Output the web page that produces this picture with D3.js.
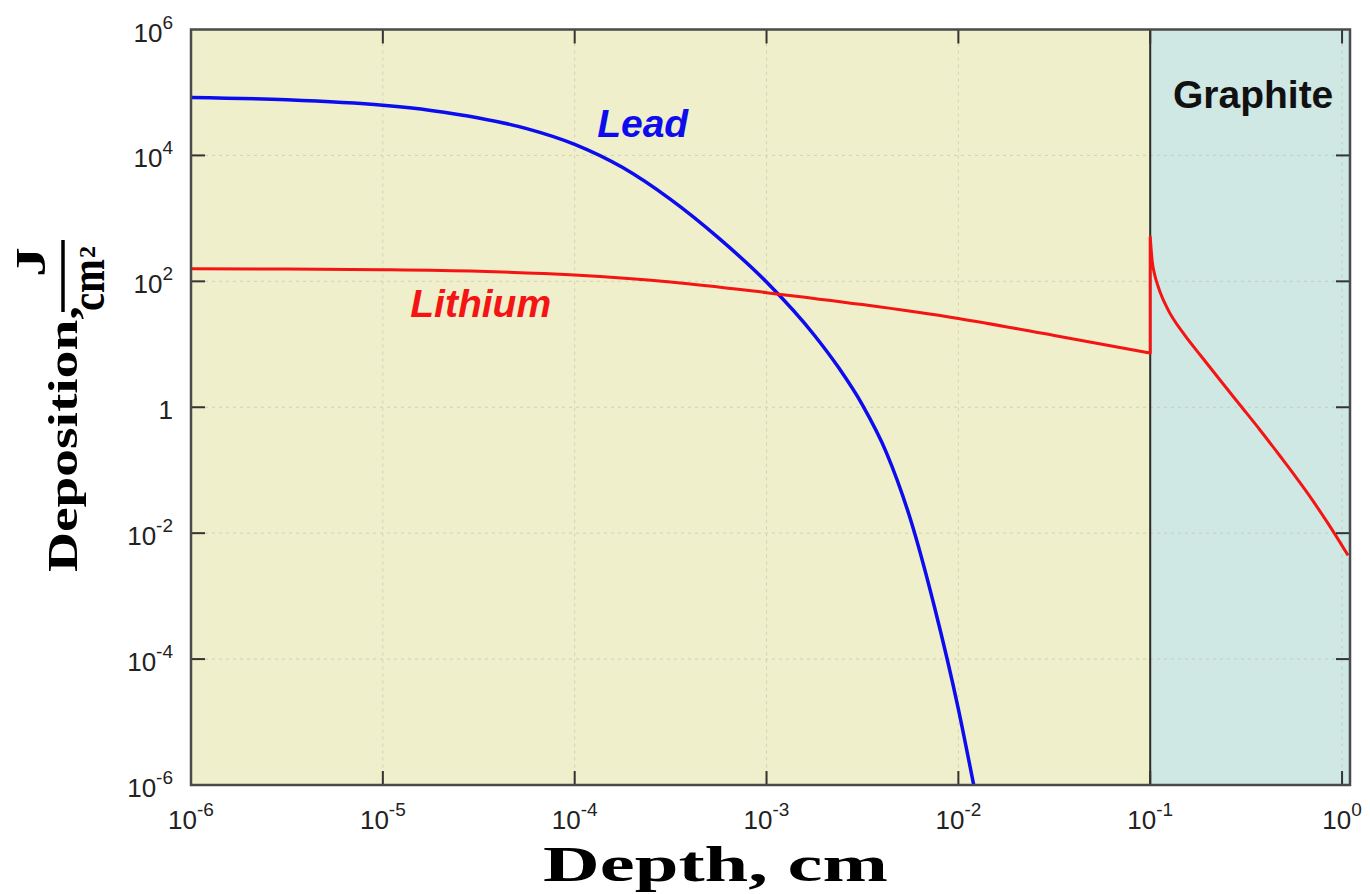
<!DOCTYPE html>
<html>
<head>
<meta charset="utf-8">
<script src="https://cdn.jsdelivr.net/npm/d3@7"></script>
<style>
  body { margin: 0; background: #ffffff; }
  svg { display: block; }
</style>
</head>
<body>
<svg id="chart" width="1370" height="894"></svg>
<script>
// Tick positions (decades) for both log axes
const depthTicks = [1e-6, 1e-5, 1e-4, 1e-3, 1e-2, 1e-1, 1];
const depositionTicks = [1e-6, 1e-4, 1e-2, 1, 1e2, 1e4, 1e6];

// Energy deposition in the lead layer, J/cm^2 vs depth, cm
const leadDepth = [1e-6, 3.16e-6, 1e-5, 1.78e-5, 3.16e-5, 5.62e-5, 1e-4, 1.78e-4,
  3.16e-4, 5.62e-4, 1e-3, 1.78e-3, 2.37e-3, 3.16e-3, 4.22e-3, 5.62e-3, 7.5e-3, 1e-2, 1.202e-2];
const leadDeposition = [8.3e4, 7.63e4, 6.24e4, 5.18e4, 3.94e4, 2.67e4, 1.5e4, 6.41e3,
  2.0e3, 489, 97.5, 13.8, 4.3, 1.09, 0.189, 0.0168, 6.79e-4, 1.61e-5, 1e-6];

// Energy deposition in the lithium film (up to the graphite interface)
const lithiumDepth = [1e-6, 3.16e-6, 1e-5, 3.16e-5, 1e-4, 3.16e-4, 1e-3, 3.16e-3, 1e-2, 3.16e-2, 0.1];
const lithiumDeposition = [158.5, 156.7, 153.1, 144.5, 125.9, 97.7, 66.1, 42.7, 25.7, 13.8, 7.24];

// Energy deposition in the graphite substrate
const graphiteDepth = [0.1, 0.1025, 0.1053, 0.1111, 0.1232, 0.151, 0.184, 0.2311,
  0.2938, 0.3735, 0.4749, 0.5585, 0.6568, 0.8449, 1.0742];
const graphiteDeposition = [512, 203, 131, 75.5, 36.4, 14.1, 6.52, 2.71,
  1.086, 0.4355, 0.1683, 0.0877, 0.0443, 0.01429, 0.00444];

const layerBoundary = 0.1;
const depthMax = 1.1;

const svg = d3.select("#chart");

const plotLeft = 191, plotRight = 1350, plotTop = 29.5, plotBottom = 785;

const x = d3.scaleLog().domain([1e-6, depthMax]).range([plotLeft, plotRight]);
const y = d3.scaleLog().domain([1e-6, 1e6]).range([plotBottom, plotTop]);

const sansFont = "'Liberation Sans', Arial, Helvetica, sans-serif";
const serifFont = "'Liberation Serif', 'Times New Roman', Times, serif";
const leadColor = "#0c0cee";
const lithiumColor = "#f41414";

svg.append("defs").append("clipPath").attr("id", "plotClip")
  .append("rect").attr("x", plotLeft).attr("y", plotTop)
  .attr("width", plotRight - plotLeft).attr("height", plotBottom - plotTop);

// Backgrounds for the two material regions
svg.append("rect")
  .attr("x", x(1e-6)).attr("y", plotTop)
  .attr("width", x(layerBoundary) - x(1e-6)).attr("height", plotBottom - plotTop)
  .attr("fill", "#efefcb");
svg.append("rect")
  .attr("x", x(layerBoundary)).attr("y", plotTop)
  .attr("width", plotRight - x(layerBoundary)).attr("height", plotBottom - plotTop)
  .attr("fill", "#cfe8e3");

// Dotted decade grid
const grid = svg.append("g").attr("stroke", "#b9b9a6").attr("stroke-width", 1)
  .attr("stroke-dasharray", "3,4").attr("opacity", 0.55);
grid.selectAll("line.v").data(depthTicks.slice(1)).join("line")
  .attr("class", "v")
  .attr("x1", d => x(d)).attr("x2", d => x(d)).attr("y1", plotTop).attr("y2", plotBottom);
grid.selectAll("line.h").data(depositionTicks.slice(1, -1)).join("line")
  .attr("class", "h")
  .attr("x1", plotLeft).attr("x2", plotRight).attr("y1", d => y(d)).attr("y2", d => y(d));

// Interface between lithium and graphite
svg.append("line")
  .attr("x1", x(layerBoundary)).attr("x2", x(layerBoundary))
  .attr("y1", plotTop).attr("y2", plotBottom)
  .attr("stroke", "#2a2a2a").attr("stroke-width", 2);

// Curves
const line = d3.line().x(d => x(d[0])).y(d => y(d[1])).curve(d3.curveMonotoneX);

const leadPts = d3.zip(leadDepth, leadDeposition);
svg.append("path").attr("d", line(leadPts))
  .attr("fill", "none").attr("stroke", leadColor).attr("stroke-width", 3.5)
  .attr("clip-path", "url(#plotClip)");

// Lithium film followed by the jump into graphite at the interface
const lithiumPts = d3.zip(lithiumDepth, lithiumDeposition);
const graphitePts = d3.zip(graphiteDepth, graphiteDeposition);
svg.append("path")
  .attr("d", line(lithiumPts) + line(graphitePts).replace(/^M/, "L"))
  .attr("fill", "none").attr("stroke", lithiumColor).attr("stroke-width", 3)
  .attr("stroke-linejoin", "round")
  .attr("clip-path", "url(#plotClip)");

// Inward ticks on all four sides
const tickLen = 14;
const ticks = svg.append("g").attr("stroke", "#333").attr("stroke-width", 2);
depositionTicks.slice(1, -1).forEach(v => {
  ticks.append("line").attr("x1", plotLeft).attr("x2", plotLeft + tickLen).attr("y1", y(v)).attr("y2", y(v));
  ticks.append("line").attr("x1", plotRight).attr("x2", plotRight - tickLen).attr("y1", y(v)).attr("y2", y(v));
});
depthTicks.slice(1).forEach(v => {
  ticks.append("line").attr("x1", x(v)).attr("x2", x(v)).attr("y1", plotBottom).attr("y2", plotBottom - tickLen);
  ticks.append("line").attr("x1", x(v)).attr("x2", x(v)).attr("y1", plotTop).attr("y2", plotTop + tickLen);
});

// Frame
svg.append("rect")
  .attr("x", plotLeft).attr("y", plotTop).attr("width", plotRight - plotLeft).attr("height", plotBottom - plotTop)
  .attr("fill", "none").attr("stroke", "#4a4a4a").attr("stroke-width", 2.5);

// Power-of-ten tick labels
function powerLabel(sel, v, plainOne) {
  const e = Math.round(Math.log10(v));
  if (plainOne && e === 0) { sel.text("1"); return; }
  sel.append("tspan").text("10");
  sel.append("tspan").attr("font-size", 19).attr("dy", -13).text(String(e));
}

depositionTicks.forEach(v => {
  const t = svg.append("text")
    .attr("x", plotLeft - 18).attr("y", y(v) + 12)
    .attr("text-anchor", "end")
    .attr("font-family", sansFont).attr("font-size", 26).attr("fill", "#222");
  powerLabel(t, v, true);
});
depthTicks.forEach(v => {
  const t = svg.append("text")
    .attr("x", x(v)).attr("y", 829)
    .attr("text-anchor", "middle")
    .attr("font-family", sansFont).attr("font-size", 26).attr("fill", "#222");
  powerLabel(t, v, false);
});

// Axis titles (wide bold serif)
svg.append("text")
  .attr("x", 543).attr("y", 881)
  .attr("font-family", serifFont).attr("font-weight", "bold").attr("font-size", 51)
  .attr("textLength", 345).attr("lengthAdjust", "spacingAndGlyphs")
  .attr("fill", "#000")
  .text("Depth, cm");

const yTitle = svg.append("g").attr("transform", "rotate(-90)")
  .attr("font-family", serifFont).attr("font-weight", "bold").attr("fill", "#000");
yTitle.append("text").attr("x", -572).attr("y", 77).attr("font-size", 42)
  .attr("textLength", 266).attr("lengthAdjust", "spacingAndGlyphs")
  .text("Deposition,");
yTitle.append("text").attr("x", -262).attr("y", 45).attr("text-anchor", "middle")
  .attr("font-size", 42).attr("textLength", 30).attr("lengthAdjust", "spacingAndGlyphs")
  .text("J");
yTitle.append("line").attr("x1", -312).attr("x2", -240).attr("y1", 63).attr("y2", 63)
  .attr("stroke", "#000").attr("stroke-width", 3.5);
yTitle.append("text").attr("x", -311).attr("y", 104).attr("font-size", 48)
  .attr("textLength", 52).attr("lengthAdjust", "spacingAndGlyphs")
  .text("cm");
yTitle.append("text").attr("x", -258).attr("y", 95).attr("font-size", 24)
  .text("2");

// Curve and region annotations
svg.append("text")
  .attr("x", x(1.31e-4)).attr("y", y(1.93e4))
  .attr("font-family", sansFont).attr("font-weight", "bold").attr("font-style", "italic")
  .attr("font-size", 39).attr("fill", leadColor)
  .text("Lead");
svg.append("text")
  .attr("x", x(1.39e-5)).attr("y", y(27.6))
  .attr("font-family", sansFont).attr("font-weight", "bold").attr("font-style", "italic")
  .attr("font-size", 39).attr("fill", lithiumColor)
  .text("Lithium");
svg.append("text")
  .attr("x", x(0.344)).attr("y", y(5.6e4))
  .attr("text-anchor", "middle")
  .attr("font-family", sansFont).attr("font-weight", "bold")
  .attr("font-size", 39).attr("fill", "#111")
  .text("Graphite");
</script>
</body>
</html>
